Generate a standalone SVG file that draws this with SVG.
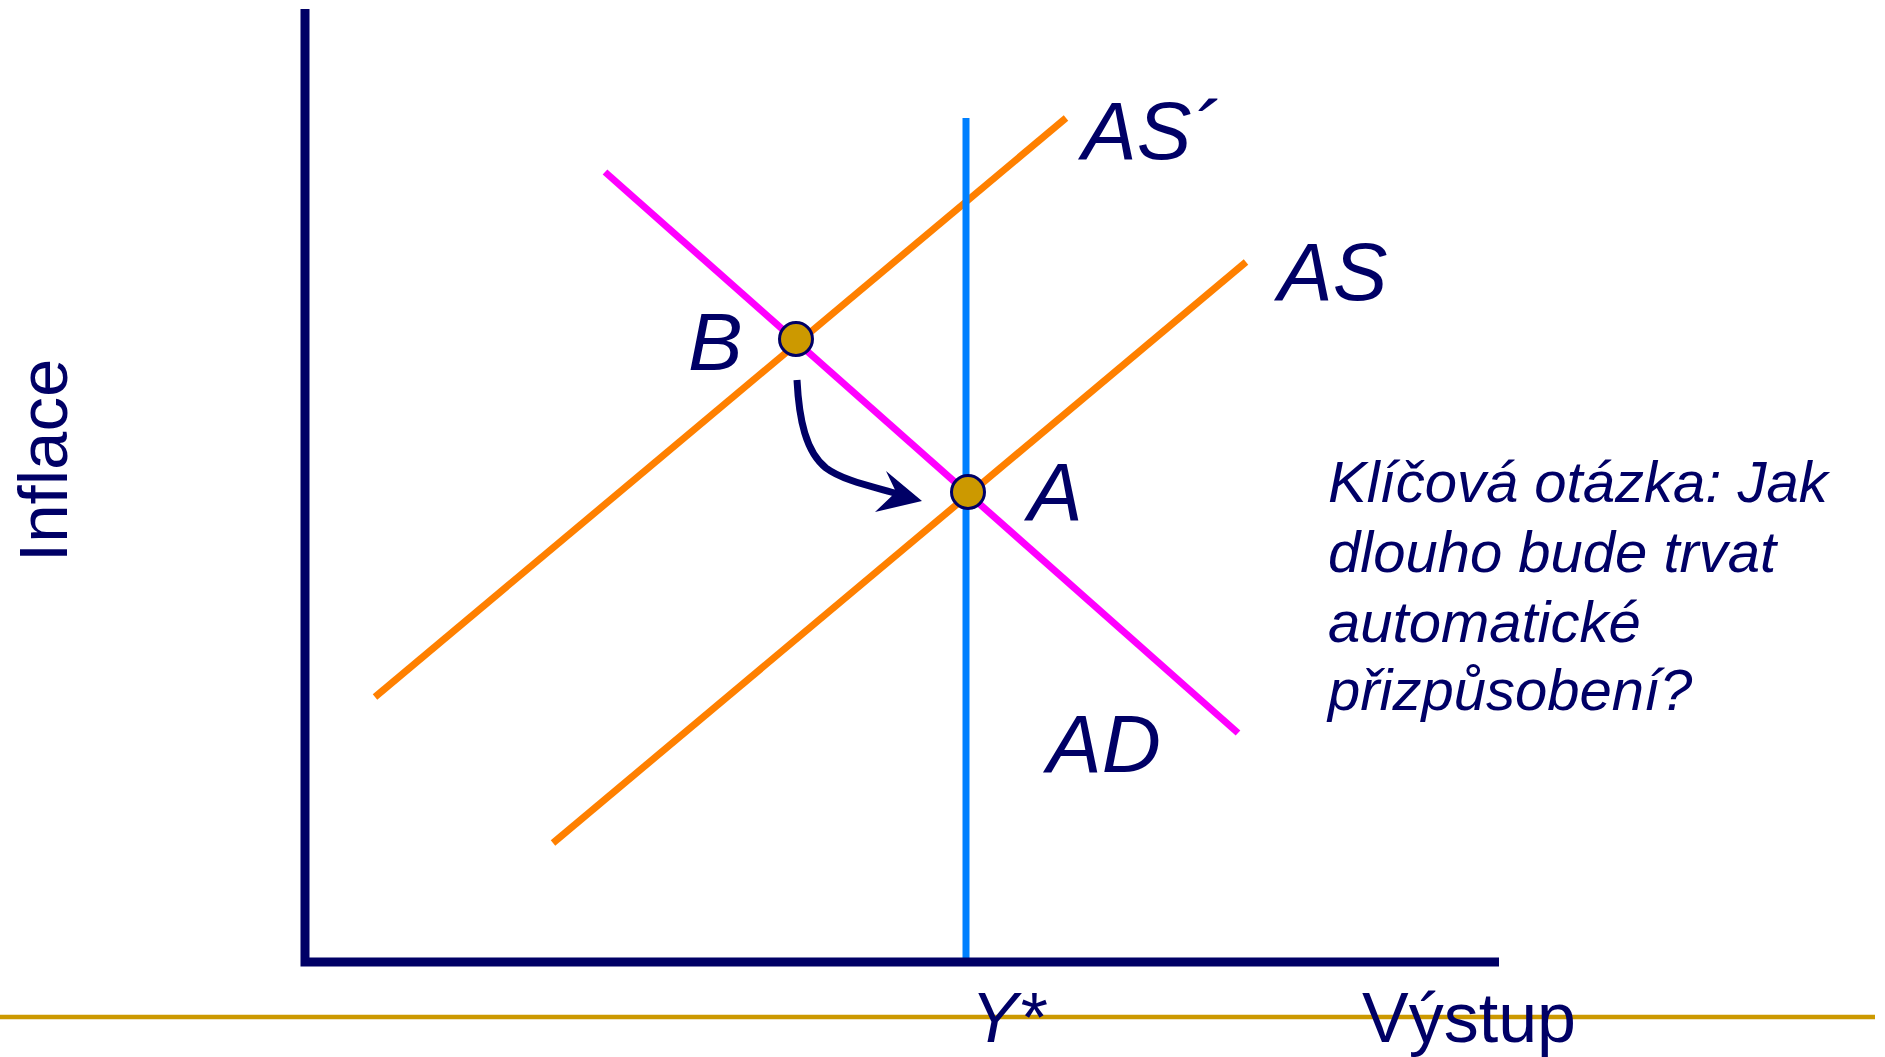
<svg xmlns="http://www.w3.org/2000/svg" width="1885" height="1057" viewBox="0 0 1885 1057">
<style>
.lbl{font-family:"Liberation Sans",Arial,sans-serif;fill:#000066}
.it{font-style:italic}
.curve{fill:none;stroke-width:7;stroke-linecap:butt}
.pt{fill:#CC9900;stroke:#000066;stroke-width:3}
</style>
<rect width="1885" height="1057" fill="#ffffff"/>
<line x1="0" y1="1017" x2="1875" y2="1017" stroke="#CC9900" stroke-width="4.5"/>
<g id="connectors">
<line id="ad" class="curve" x1="605" y1="172" x2="1238" y2="733" stroke="#FF00FF"/>
<line id="as2" class="curve" x1="375" y1="697" x2="1066" y2="118" stroke="#FF8000"/>
<line id="as" class="curve" x1="553" y1="843" x2="1246" y2="262" stroke="#FF8000"/>
<line id="ystar" class="curve" x1="966" y1="118" x2="966" y2="962" stroke="#0080FF" stroke-width="8"/>
<path id="axes" d="M305 9 V962 H1499" fill="none" stroke="#000066" stroke-width="9"/>
<path id="move" d="M797 380 C799 420 806 452 826 468 C842 480 870 486 898 494" fill="none" stroke="#000066" stroke-width="7"/>
<polygon points="922,501 886,471 896,492 875,512" fill="#000066"/>
</g>
<g id="pointB"><circle class="pt" cx="796" cy="339" r="16.5"/></g>
<g id="pointA"><circle class="pt" cx="968" cy="492" r="16.5"/></g>
<g id="labels">
<text class="lbl it" x="1082" y="159" font-size="82">AS´</text>
<text class="lbl it" x="1278" y="300" font-size="82">AS</text>
<text class="lbl it" x="688" y="370" font-size="82">B</text>
<text class="lbl it" x="1028" y="520" font-size="82">A</text>
<text class="lbl it" x="1047" y="772" font-size="82">AD</text>
<text class="lbl it" x="971" y="1042" font-size="70">Y*</text>
<text class="lbl" x="1362" y="1042" font-size="70">Výstup</text>
<text class="lbl" transform="translate(67 562) rotate(-90)" font-size="69">Inflace</text>
<text class="lbl it" font-size="58">
<tspan x="1328" y="502">Klíčová otázka: Jak</tspan>
<tspan x="1328" y="572">dlouho bude trvat</tspan>
<tspan x="1328" y="642">automatické</tspan>
<tspan x="1328" y="710">přizpůsobení?</tspan>
</text>
</g>
</svg>
